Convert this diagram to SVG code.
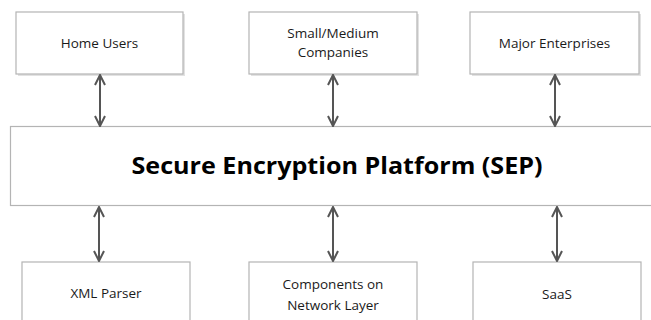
<svg xmlns="http://www.w3.org/2000/svg" width="651" height="320" viewBox="0 0 651 320">
<style>
.box{fill:#fff;stroke:#b4b4b4;stroke-width:1.2}
.sh{fill:none;stroke:#e2e2e2;stroke-width:2}
.t{font-family:"Open Sans","Liberation Sans",sans-serif;font-size:13.5px;fill:#1a1a1a;text-anchor:middle}
.title{font-family:"Open Sans","Liberation Sans",sans-serif;font-size:24px;font-weight:bold;fill:#000;text-anchor:middle}
.c{stroke:#555;stroke-width:2;fill:none}
</style>
<defs>
<marker id="ah" viewBox="0 0 12 12" refX="11" refY="6" markerWidth="12" markerHeight="12" markerUnits="userSpaceOnUse" orient="auto-start-reverse">
<path d="M1,1 L11,6 L1,11" fill="none" stroke="#555" stroke-width="2"/>
</marker>
</defs>
<g id="home-users"><path class="sh" d="M184,14 V75 H18"/><rect class="box" x="16" y="12" width="167" height="62"/><text class="t" x="99.5" y="48">Home Users</text></g>
<g id="small-medium"><path class="sh" d="M418,14 V75 H251"/><rect class="box" x="249" y="12" width="168" height="62"/><text class="t" x="333" y="38">Small/Medium</text><text class="t" x="333" y="57">Companies</text></g>
<g id="major-enterprises"><path class="sh" d="M640,14 V75 H472"/><rect class="box" x="470" y="12" width="169" height="62"/><text class="t" x="554.5" y="48">Major Enterprises</text></g>
<g id="sep"><rect class="box" x="10.5" y="126.5" width="650" height="79"/><text class="title" x="337" y="174" textLength="411" lengthAdjust="spacingAndGlyphs">Secure Encryption Platform (SEP)</text></g>
<g id="xml-parser"><rect class="box" x="22" y="262" width="168" height="70"/><text class="t" x="106" y="298">XML Parser</text></g>
<g id="components"><rect class="box" x="249" y="262" width="168" height="70"/><text class="t" x="333" y="289">Components on</text><text class="t" x="333" y="310">Network Layer</text></g>
<g id="saas"><rect class="box" x="473" y="262" width="168" height="70"/><text class="t" x="557" y="299">SaaS</text></g>
<g id="connectors">
<line class="c" x1="100" y1="75" x2="100" y2="126" marker-start="url(#ah)" marker-end="url(#ah)"/>
<line class="c" x1="333" y1="75" x2="333" y2="126" marker-start="url(#ah)" marker-end="url(#ah)"/>
<line class="c" x1="555" y1="75" x2="555" y2="126" marker-start="url(#ah)" marker-end="url(#ah)"/>
<line class="c" x1="99" y1="207" x2="99" y2="261" marker-start="url(#ah)" marker-end="url(#ah)"/>
<line class="c" x1="333" y1="207" x2="333" y2="261" marker-start="url(#ah)" marker-end="url(#ah)"/>
<line class="c" x1="557" y1="207" x2="557" y2="261" marker-start="url(#ah)" marker-end="url(#ah)"/>
</g>
</svg>
